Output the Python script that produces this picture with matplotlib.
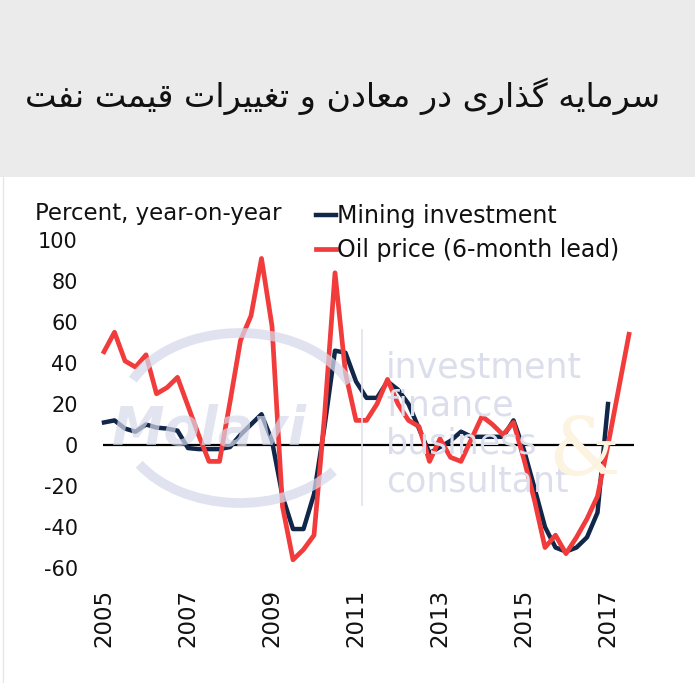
import numpy as np
import matplotlib
matplotlib.use("Agg")
import matplotlib.pyplot as plt
from matplotlib.patches import Rectangle, Arc
from matplotlib.lines import Line2D

plt.rcParams['font.family'] = ['DejaVu Sans', 'Noto Sans']
plt.rcParams['axes.unicode_minus'] = False

# ---------------- data (quarterly, starting 2005 Q1) ----------------
start_year = 2005
mining_investment = [11, 12, 8, 6.5, 10, 8.5, 8, 7, -1.5, -2, -2, -2, -1, 5, 10, 15,
                     2, -25, -41, -41, -24, 9, 46, 45, 31, 23, 23, 31, 27, 20, 8, -4,
                     -1, 2, 6.5, 4, 4, 4, 4, 12, -2.5, -21, -40, -50, -52, -50, -45, -33, 20]
oil_price_lead = [45.5, 55, 41, 38, 44, 25, 28, 33, 19, 5, -8, -8, 21, 51, 63, 91,
                  58, -30, -56, -51, -44, 14, 84, 35, 12, 12, 20, 32, 20, 12, 9, -8,
                  3, -6, -8, 3, 14, 10, 5, 11, -7, -27, -50, -44, -53, -45, -36, -25, 0, 27, 54]
series_labels = ["Mining investment", "Oil price (6-month lead)"]
y_ticks = [-60, -40, -20, 0, 20, 40, 60, 80, 100]
x_ticks = [2005, 2007, 2009, 2011, 2013, 2015, 2017]
title_text = "سرمایه گذاری در معادن و تغییرات قیمت نفت"
y_label_text = "Percent, year-on-year"

# ---------------- minimal Persian shaping (presentation forms + RTL) ----------------
FORMS = {
    'ا': ('\uFE8D', '\uFE8E', None, None),
    'د': ('\uFEA9', '\uFEAA', None, None),
    'ذ': ('\uFEAB', '\uFEAC', None, None),
    'ر': ('\uFEAD', '\uFEAE', None, None),
    'ز': ('\uFEAF', '\uFEB0', None, None),
    'و': ('\uFEED', '\uFEEE', None, None),
    'ب': ('\uFE8F', '\uFE90', '\uFE91', '\uFE92'),
    'ت': ('\uFE95', '\uFE96', '\uFE97', '\uFE98'),
    'س': ('\uFEB1', '\uFEB2', '\uFEB3', '\uFEB4'),
    'ع': ('\uFEC9', '\uFECA', '\uFECB', '\uFECC'),
    'غ': ('\uFECD', '\uFECE', '\uFECF', '\uFED0'),
    'ف': ('\uFED1', '\uFED2', '\uFED3', '\uFED4'),
    'ق': ('\uFED5', '\uFED6', '\uFED7', '\uFED8'),
    'م': ('\uFEE1', '\uFEE2', '\uFEE3', '\uFEE4'),
    'ن': ('\uFEE5', '\uFEE6', '\uFEE7', '\uFEE8'),
    'ه': ('\uFEE9', '\uFEEA', '\uFEEB', '\uFEEC'),
    'ی': ('\uFBFC', '\uFBFD', '\uFBFE', '\uFBFF'),
    'گ': ('\uFB92', '\uFB93', '\uFB94', '\uFB95'),
}
DUAL = {c for c, f in FORMS.items() if f[2] is not None}


def shape(s):
    out = []
    for i, c in enumerate(s):
        if c not in FORMS:
            out.append(c)
            continue
        prev = s[i - 1] if i > 0 else ''
        nxt = s[i + 1] if i + 1 < len(s) else ''
        jp = prev in DUAL
        jn = c in DUAL and nxt in FORMS
        iso, fin, ini, med = FORMS[c]
        if jp and jn:
            out.append(med)
        elif jp:
            out.append(fin)
        elif jn:
            out.append(ini)
        else:
            out.append(iso)
    return ''.join(reversed(out))


# ---------------- figure ----------------
W, H = 695, 683
fig = plt.figure(figsize=(W / 100, H / 100), dpi=100)
fig.patch.set_facecolor('white')


def fx(px):
    return px / W


def fy(py):
    return 1 - py / H


# header band
fig.patches.append(Rectangle((0, fy(177)), 1, 177 / H, transform=fig.transFigure,
                             facecolor='#ebebeb', edgecolor='none', zorder=0))
fig.lines.append(Line2D([fx(2.5), fx(2.5)], [fy(177), 0], transform=fig.transFigure,
                        color='#e6e6e6', lw=1))
fig.text(fx(343), fy(96), shape(title_text), ha='center', va='center',
         fontsize=24, color='#111111', family=['DejaVu Sans'])

# axes
L, R, T, B = 100, 640, 230, 575
ax = fig.add_axes([fx(L), fy(B), (R - L) / W, (B - T) / H])
ax.set_facecolor('none')
ax.set_xlim(2005 + (L - 104) / 42, 2005 + (R - 104) / 42)
ax.set_ylim((445 - B) / 2.05, (445 - T) / 2.05)
for s in ax.spines.values():
    s.set_visible(False)

# watermark (faint)
wm_col = '#d6d9ea'
fig.patches.append(Arc((fx(240), fy(418)), 240 / W, 170 / H, angle=0, theta1=18, theta2=160,
                       transform=fig.transFigure, color=wm_col, lw=7, alpha=0.75, zorder=0.5))
fig.patches.append(Arc((fx(240), fy(418)), 240 / W, 170 / H, angle=0, theta1=205, theta2=330,
                       transform=fig.transFigure, color=wm_col, lw=7, alpha=0.75, zorder=0.5))
fig.text(fx(112), fy(445), "Molavi", fontsize=38, fontweight='bold', style='italic',
         color=wm_col, alpha=0.7, zorder=0.6)
fig.lines.append(Line2D([fx(362), fx(362)], [fy(330), fy(505)], transform=fig.transFigure,
                        color='#dfe1ec', lw=1.2, zorder=0.5))
for word, base in zip(["investment", "finance", "business", "consultant"], [377, 415, 453, 492]):
    fig.text(fx(386), fy(base), word, fontsize=25, color='#dcdfeb', zorder=0.6)
fig.text(fx(548), fy(475), "&", fontsize=58, family='DejaVu Serif', color='#fcf3e0', zorder=0.6)

# zero line
ax.hlines(0, 2005 - 1 / 42, 2005 + 530 / 42, color='black', lw=1.6, zorder=1)

x_mining = start_year + np.arange(len(mining_investment)) / 4
x_oil = start_year + np.arange(len(oil_price_lead)) / 4
ax.plot(x_mining, mining_investment, color='#10274a', lw=3.2, zorder=2,
        solid_joinstyle='round', label=series_labels[0])
ax.plot(x_oil, oil_price_lead, color='#f23b3b', lw=3.4, zorder=3,
        solid_joinstyle='round', label=series_labels[1])

ax.set_yticks(y_ticks)
ax.set_yticklabels([str(v) for v in y_ticks], fontsize=15, color='#111111')
ax.set_xticks(x_ticks)
ax.set_xticklabels([str(v) for v in x_ticks], rotation=90, fontsize=16.5, color='#111111')
ax.tick_params(axis='both', length=0)
ax.tick_params(axis='y', pad=16)
ax.tick_params(axis='x', pad=10)

fig.text(fx(35), fy(220), y_label_text, fontsize=16.5, color='#111111', va='baseline')

leg = ax.legend(loc='upper left', bbox_to_anchor=(fx(316), fy(204)), bbox_transform=fig.transFigure,
                frameon=False, fontsize=17, handlelength=0.85, handletextpad=0.05,
                borderpad=0, borderaxespad=0, labelspacing=0.42)
for t in leg.get_texts():
    t.set_color('#111111')

fig.savefig('out.png', dpi=100)
